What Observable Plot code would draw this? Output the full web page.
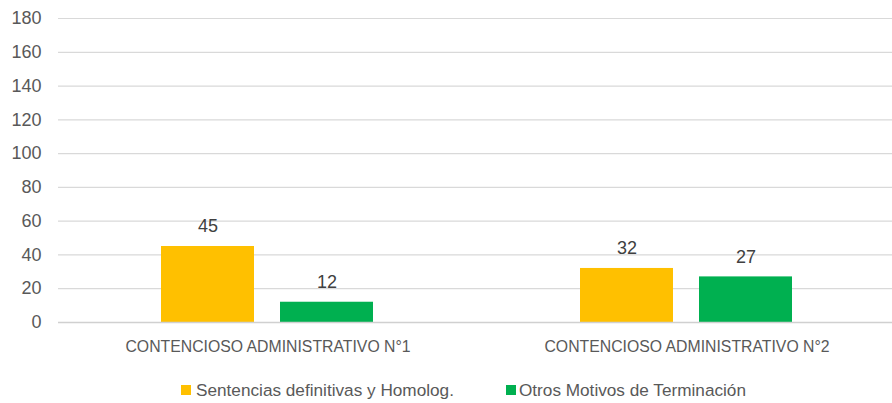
<!DOCTYPE html>
<html>
<head>
<meta charset="utf-8">
<script src="https://cdn.jsdelivr.net/npm/d3@7"></script>
<script src="https://cdn.jsdelivr.net/npm/@observablehq/plot@0.6"></script>
<style>
  html, body { margin: 0; padding: 0; background: #fff; }
  body { width: 892px; height: 403px; overflow: hidden; font-family: "Liberation Sans", Arial, sans-serif; }
  #chart svg { display: block; }
  #chart [aria-label^="y-axis"] text { font-size: 18px; fill: #595959; }
  #chart [aria-label^="fx-axis"] text { font-size: 15.8px; fill: #595959; }
  .legend { height: 30px; display: flex; align-items: center; padding-left: 181px; color: #595959; font-size: 17.2px; }
  .legend .item { display: flex; align-items: center; }
  .legend .sw { width: 10px; height: 10px; margin-right: 5px; }
</style>
</head>
<body>
<div id="chart"></div>
<div class="legend" id="legend"></div>
<script>
const categories = ["CONTENCIOSO ADMINISTRATIVO N°1", "CONTENCIOSO ADMINISTRATIVO N°2"];
const series = ["Sentencias definitivas y Homolog.", "Otros Motivos de Terminación"];
const sentencias = [45, 32];
const otros = [12, 27];
const colors = ["#FFC000", "#00B050"];
const yTicks = [0, 20, 40, 60, 80, 100, 120, 140, 160, 180];

const values = [sentencias, otros];
const data = [];
categories.forEach((c, i) => series.forEach((s, j) => data.push({category: c, series: s, value: values[j][i]})));

const chart = Plot.plot({
  width: 892,
  height: 375,
  marginTop: 18,
  marginBottom: 53,
  marginLeft: 58,
  marginRight: 14,
  style: {fontFamily: '"Liberation Sans", Arial, sans-serif', fontSize: "18px", color: "#595959", background: "#fff"},
  fx: {domain: categories, range: [58, 896], padding: 0, label: null, tickSize: 0, tickPadding: 18},
  x: {domain: series, axis: null, paddingInner: 0.2176, paddingOuter: 0.862},
  y: {domain: [0, 180], ticks: yTicks, tickSize: 0, tickPadding: 17, label: null},
  color: {domain: series, range: colors},
  facet: {data: data, x: "category"},
  marks: [
    Plot.ruleY(yTicks.filter(d => d > 0), {stroke: "#d9d9d9", strokeWidth: 1.2}),
    Plot.barY(data, {x: "series", y: "value", fill: "series"}),
    Plot.ruleY([0], {stroke: "#d0d0d0", strokeWidth: 1.4}),
    Plot.text(data, {x: "series", y: "value", text: d => String(d.value), dy: -20, fill: "#404040", fontSize: 18})
  ]
});
document.getElementById("chart").appendChild(chart);

const legend = document.getElementById("legend");
series.forEach((s, j) => {
  const item = document.createElement("div");
  item.className = "item";
  if (j > 0) item.style.marginLeft = "52px";
  const sw = document.createElement("span");
  sw.className = "sw";
  sw.style.background = colors[j];
  if (j > 0) sw.style.marginRight = "3px";
  const t = document.createElement("span");
  t.textContent = s;
  item.appendChild(sw);
  item.appendChild(t);
  legend.appendChild(item);
});
</script>
</body>
</html>
